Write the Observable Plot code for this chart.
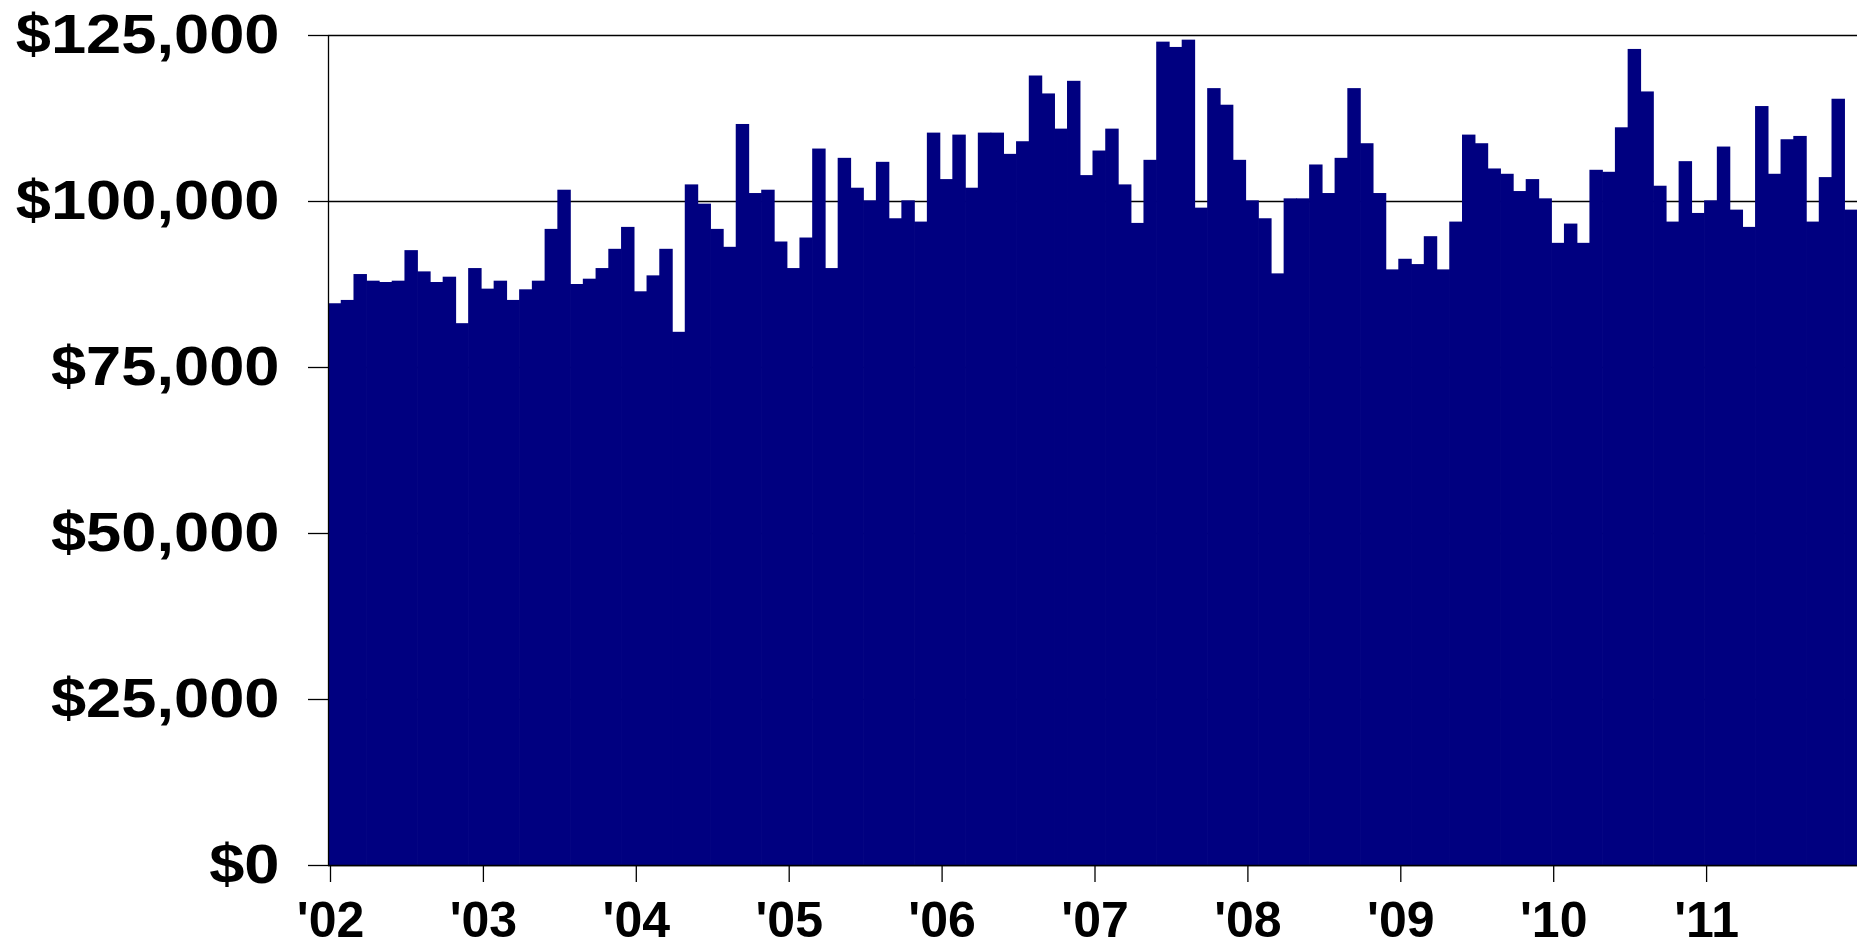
<!DOCTYPE html>
<html>
<head>
<meta charset="utf-8">
<script src="https://cdn.jsdelivr.net/npm/d3@7"></script>
<script src="https://cdn.jsdelivr.net/npm/@observablehq/plot@0.6"></script>
<style>
  html, body { margin: 0; padding: 0; background: #fff; overflow: hidden; }
  #chart svg { display: block; }
</style>
</head>
<body>
<div id="chart"></div>
<script>
// Year tick labels (one per January)
const yearLabels = ["'02", "'03", "'04", "'05", "'06", "'07", "'08", "'09", "'10", "'11"];

// Monthly values, Jan 2002 .. Dec 2011 (USD)
const values2002 = [84600, 85100, 89000, 88000, 87800, 88000, 92600, 89400, 87800, 88600, 81600, 89900];
const values2003 = [86800, 88000, 85100, 86700, 88000, 95800, 101700, 87500, 88300, 89900, 92800, 96100];
const values2004 = [86400, 88800, 92800, 80300, 102500, 99600, 95800, 93100, 111600, 101200, 101700, 93900];
const values2005 = [89900, 94500, 107900, 89900, 106500, 102000, 100100, 105900, 97400, 100100, 96900, 110300];
const values2006 = [103300, 110000, 102000, 110300, 110300, 107100, 109000, 118900, 116200, 110900, 118100, 103900];
const values2007 = [107600, 110900, 102500, 96700, 106200, 124000, 123200, 124300, 99000, 117000, 114500, 106200];
const values2008 = [100100, 97400, 89100, 100400, 100400, 105500, 101200, 106500, 117000, 108700, 101200, 89700];
const values2009 = [91300, 90500, 94700, 89700, 96900, 110000, 108700, 104900, 104100, 101500, 103300, 100400];
const values2010 = [93700, 96600, 93700, 104700, 104400, 111100, 122900, 116500, 102300, 96900, 106000, 98200];
const values2011 = [100100, 108200, 98700, 96100, 114300, 104100, 109300, 109800, 96900, 103600, 115400, 98700];

// Y axis tick values
const yTicks = [0, 25000, 50000, 75000, 100000, 125000];

const monthlyValues = [].concat(values2002, values2003, values2004, values2005, values2006,
                                values2007, values2008, values2009, values2010, values2011);
const data = monthlyValues.map((v, i) => ({ i, v }));
const yearTicks = yearLabels.map((_, k) => k * 12);
const nMonths = monthlyValues.length;

const chart = Plot.plot({
  width: 1857,
  height: 949,
  marginLeft: 328,
  marginRight: 0,
  marginTop: 35,
  marginBottom: 84,
  style: { fontFamily: "'Liberation Sans', Arial, sans-serif", background: "#fff", color: "#000" },
  x: { type: "linear", domain: [0, nMonths] },
  y: { domain: [0, 125000] },
  marks: [
    Plot.gridY(yTicks, { stroke: "#000", strokeOpacity: 1, strokeWidth: 1.3 }),
    Plot.rectY(data, {
      x1: "i",
      x2: (d) => d.i + 1,
      y: "v",
      fill: "#000080",
      insetLeft: 0,
      insetRight: -0.7,
      insetTop: 0,
      insetBottom: 0
    }),
    Plot.ruleY([0], { stroke: "#000", strokeWidth: 1.3 }),
    Plot.ruleX([0], { stroke: "#000", strokeWidth: 1.3 }),
    Plot.axisY(yTicks, {
      tickSize: 20,
      tickPadding: 29,
      tickFormat: d3.format("$,.0f"),
      fontSize: 55,
      fontWeight: "bold",
      strokeWidth: 1.3,
      label: null
    }),
    Plot.axisX(yearTicks, {
      tickSize: 17,
      tickPadding: 19,
      tickFormat: (d) => yearLabels[d / 12],
      fontSize: 50,
      fontWeight: "bold",
      strokeWidth: 1.3,
      dx: 2,
      label: null
    })
  ]
});

// Y tick labels in the reference are slightly wider than regular Arial Bold
d3.select(chart).selectAll('g[aria-label="y-axis tick label"] text').each(function () {
  const t = this.getAttribute("transform");
  if (t && t.includes("translate")) {
    this.setAttribute("transform", t + " scale(1.15,1)");
  } else {
    const x = +this.getAttribute("x") || 0;
    this.setAttribute("transform", `translate(${x},0) scale(1.15,1) translate(${-x},0)`);
  }
});

document.getElementById("chart").appendChild(chart);
</script>
</body>
</html>
